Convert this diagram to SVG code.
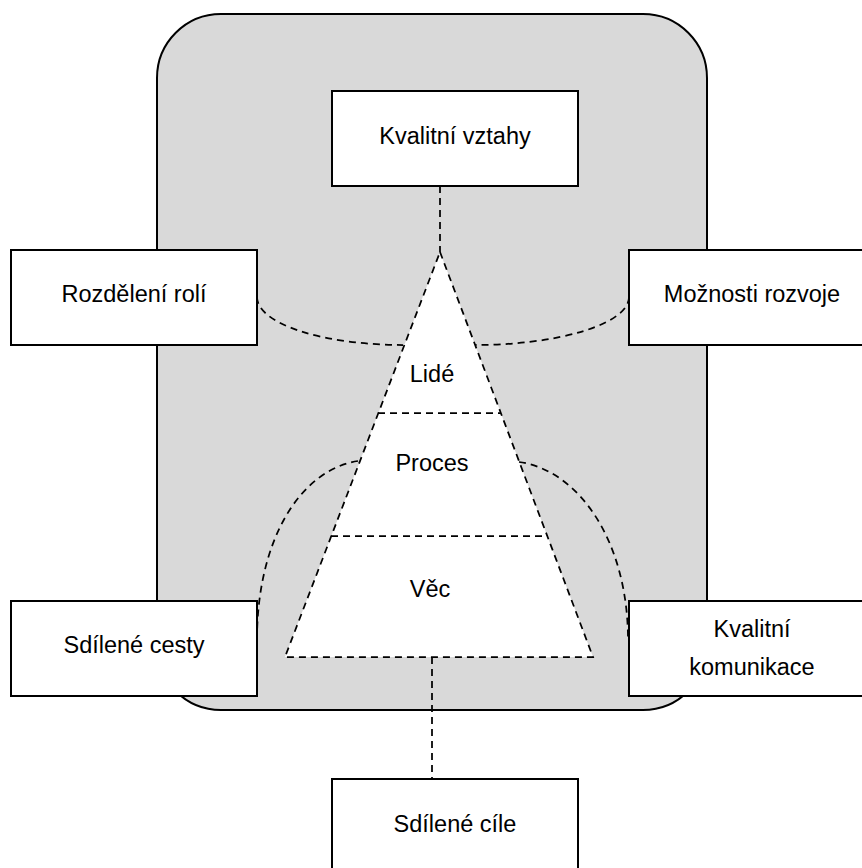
<svg xmlns="http://www.w3.org/2000/svg" width="862" height="868" viewBox="0 0 862 868">
  <style>
    .frame { fill: #d9d9d9; stroke: #000; stroke-width: 2; }
    .box { fill: #fff; stroke: #000; stroke-width: 2; }
    .dash { fill: none; stroke: #000; stroke-width: 1.75; stroke-dasharray: 7 5; }
    .pyr { fill: #fff; stroke: #000; stroke-width: 1.75; stroke-dasharray: 7 5; stroke-linejoin: miter; }
    .lbl { font-family: "Liberation Sans", Arial, sans-serif; font-size: 23.5px; fill: #000; text-anchor: middle; }
  </style>

  <!-- grey background panel -->
  <rect id="panel" class="frame" x="157" y="14" width="550" height="696" rx="64" ry="64"/>

  <!-- pyramid with its three levels -->
  <g id="pyramid">
    <polygon class="pyr" points="440,252 593,657 285,657"/>
    <line class="dash" x1="378" y1="413" x2="501" y2="413"/>
    <line class="dash" x1="331" y1="536" x2="548" y2="536"/>
    <text class="lbl" x="432" y="382">Lidé</text>
    <text class="lbl" x="432" y="471">Proces</text>
    <text class="lbl" x="430" y="597">Věc</text>
  </g>

  <!-- dashed connectors -->
  <g id="connectors">
    <line class="dash" x1="440" y1="186" x2="440" y2="252"/>
    <line class="dash" x1="432" y1="657" x2="432" y2="779"/>
    <path class="dash" d="M257,297 A146,48 0 0 0 403,345"/>
    <path class="dash" d="M629,297 A154,48 0 0 1 475,345"/>
    <path class="dash" d="M358,461 C300,470 257,540 257,640"/>
    <path class="dash" d="M519,462 C578,470 628,540 628,640"/>
  </g>

  <g id="kvalitni-vztahy">
    <rect class="box" x="332" y="91" width="246" height="95"/>
    <text class="lbl" x="455" y="144">Kvalitní vztahy</text>
  </g>

  <g id="rozdeleni-roli">
    <rect class="box" x="11" y="250" width="246" height="95"/>
    <text class="lbl" x="134" y="302">Rozdělení rolí</text>
  </g>

  <g id="moznosti-rozvoje">
    <rect class="box" x="629" y="250" width="246" height="95"/>
    <text class="lbl" x="752" y="302">Možnosti rozvoje</text>
  </g>

  <g id="sdilene-cesty">
    <rect class="box" x="11" y="601" width="246" height="95"/>
    <text class="lbl" x="134" y="653">Sdílené cesty</text>
  </g>

  <g id="kvalitni-komunikace">
    <rect class="box" x="629" y="601" width="246" height="95"/>
    <text class="lbl" x="752" y="637">Kvalitní</text>
    <text class="lbl" x="752" y="675">komunikace</text>
  </g>

  <g id="sdilene-cile">
    <rect class="box" x="332" y="779" width="246" height="95"/>
    <text class="lbl" x="455" y="832">Sdílené cíle</text>
  </g>
</svg>
